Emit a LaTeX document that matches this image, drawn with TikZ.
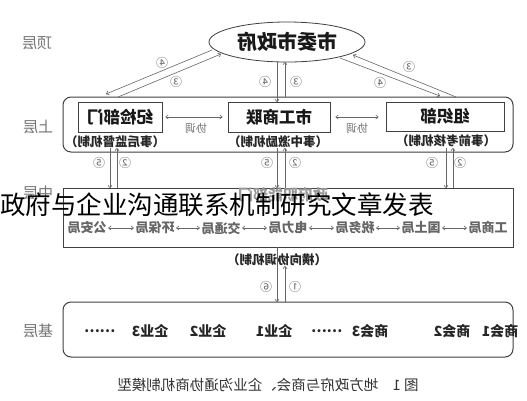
\documentclass[tikz,border=0pt]{standalone}
\usepackage{fontspec}
\usepackage{graphicx}
\setmainfont{Noto Sans CJK SC}
\usetikzlibrary{shapes.geometric,arrows.meta}
\newcommand{\mirtxt}[1]{\reflectbox{#1}}
\begin{document}
\begin{tikzpicture}[x=1pt,y=-1pt,
  lbl/.style={text=black!55, font=\fontsize{15}{15}\selectfont},
  boxt/.style={draw=black!75, line width=0.8pt, font=\fontsize{16.5}{16.5}\selectfont\bfseries, text=black!90, inner sep=0pt},
  cont/.style={draw=black!75, line width=1pt, inner sep=0pt, minimum width=450, fill=none},
  subt/.style={font=\fontsize{12.5}{12.5}\selectfont\bfseries, text=black!85, inner sep=1pt},
  bur/.style={font=\fontsize{13}{13}\selectfont\bfseries, text=black!60, inner sep=1.5pt},
  basei/.style={font=\fontsize{14}{14}\selectfont\bfseries, text=black!85},
  num/.style={font=\fontsize{12}{12}\selectfont, text=black!60, inner sep=0pt},
  xt/.style={font=\fontsize{11}{11}\selectfont, text=black!55, inner sep=0pt},
  arr/.style={draw=black!60, line width=0.6pt, -{To[length=3pt,width=4.5pt]}},
  darr/.style={draw=black!60, line width=0.6pt, {To[length=3pt,width=4.5pt]}-{To[length=3pt,width=4.5pt]}}
]
\useasboundingbox (0,0) rectangle (527,400);
\fill[white] (0,0) rectangle (527,400);

% layer labels
\node[lbl] (lTop) at (37,43) {\mirtxt{顶层}};
\node[lbl] (lUp) at (38,127) {\mirtxt{上层}};
\node[lbl] (lMid) at (38,193) {\mirtxt{中层}};
\node[lbl] (lBase) at (38,331) {\mirtxt{基层}};

% top
\node[ellipse, draw=black!75, line width=0.8pt, minimum width=156, minimum height=40,
      font=\fontsize{20}{20}\selectfont\bfseries, text=black!90] (gov) at (287,42) {\mirtxt{市委市政府}};

% containers
\node[cont, rounded corners=8pt, minimum height=55] (upper) at (288,124.5) {};
\node[cont, minimum height=59] (mid) at (288,217.5) {};
\node[cont, rounded corners=8pt, minimum height=55] (base) at (288,329.5) {};

% upper boxes
\node[boxt, minimum width=84, minimum height=30] (jj) at (120,117) {\mirtxt{纪检部门}};
\node[boxt, minimum width=102, minimum height=30] (gsl) at (279,117) {\mirtxt{市工商联}};
\node[boxt, minimum width=118, minimum height=29] (zzb) at (445,116.5) {\mirtxt{组织部}};
\node[subt] (s1) at (115,142) {\mirtxt{（事后监督机制）}};
\node[subt] (s2) at (278,142) {\mirtxt{（事中激励机制）}};
\node[subt] (s3) at (446,141) {\mirtxt{（事前考核机制）}};
\draw[darr, shorten <=3pt, shorten >=5pt] (jj.east) -- (gsl.west);
\draw[darr, shorten <=5pt, shorten >=7pt] (gsl.east) -- (zzb.west |- gsl.east);
\node[xt] (x1) at (196,128) {\mirtxt{协调}};
\node[xt] (x2) at (357,128) {\mirtxt{协调}};

% middle
\node[font=\fontsize{15}{15}\selectfont\bfseries, text=black!40] (midt) at (283,195) {\mirtxt{政府职能部门}};
\node[bur] (b1) at (87,228) {\mirtxt{公安局}};
\node[bur] (b2) at (155,228) {\mirtxt{环保局}};
\node[bur] (b3) at (221,228) {\mirtxt{交通局}};
\node[bur] (b4) at (288,228) {\mirtxt{电力局}};
\node[bur] (b5) at (355,228) {\mirtxt{税务局}};
\node[bur] (b6) at (421,228) {\mirtxt{国土局}};
\node[bur] (b7) at (488,228) {\mirtxt{工商局}};
\foreach \a/\b in {b1/b2,b2/b3,b3/b4,b4/b5,b5/b6,b6/b7}
  \draw[darr] (\a.east) -- (\b.west);
\node[subt] (hx) at (277,260) {\mirtxt{（横向协调机制）}};

% base items
\node[basei] (e1) at (500,331) {\mirtxt{商会1}};
\node[basei] (e2) at (452,331) {\mirtxt{商会2}};
\node[basei] (e3) at (370,331) {\mirtxt{商会3}};
\node[basei] (e4) at (327,331) {\mirtxt{……}};
\node[basei] (e5) at (274,331) {\mirtxt{企业1}};
\node[basei] (e6) at (208,331) {\mirtxt{企业2}};
\node[basei] (e7) at (150,331) {\mirtxt{企业3}};
\node[basei] (e8) at (100,331) {\mirtxt{……}};

% caption
\node[text=black!80, font=\fontsize{14.5}{14.5}\selectfont] (cap) at (268,385) {\mirtxt{图 1\quad 地方政府与商会、企业沟通协商机制模型}};

% connector end points
\coordinate (a1s) at (212,50);  \coordinate (a1e) at (106,94);
\coordinate (a2s) at (118,97);  \coordinate (a2e) at (221,54);
\coordinate (a3s) at (277,62);  \coordinate (a3e) at (277,102);
\coordinate (a4s) at (285,97);  \coordinate (a4e) at (285,62);
\coordinate (a5s) at (340,58);  \coordinate (a5e) at (440,96);
\coordinate (a6s) at (456,97);  \coordinate (a6e) at (353,55);
\coordinate (c1s) at (110,148); \coordinate (c1e) at (110,188);
\coordinate (c2s) at (117,188); \coordinate (c2e) at (117,148);
\coordinate (c3s) at (277,148); \coordinate (c3e) at (277,188);
\coordinate (c4s) at (285,188); \coordinate (c4e) at (285,148);
\coordinate (c5s) at (446,148); \coordinate (c5e) at (446,188);
\coordinate (c6s) at (453,188); \coordinate (c6e) at (453,148);
\coordinate (d1s) at (277,247); \coordinate (d1e) at (277,302);
\coordinate (d2s) at (285,302); \coordinate (d2e) at (285,266);

\foreach \p in {a1,a2,a3,a4,a5,a6,c1,c2,c3,c4,c5,c6,d1,d2}
  \draw[arr] (\p s) -- (\p e);

% circled numbers
\node[num] (n1) at (162,63) {\mirtxt{④}};
\node[num] (n2) at (176,82) {\mirtxt{③}};
\node[num] (n3) at (265,82) {\mirtxt{④}};
\node[num] (n4) at (296,82) {\mirtxt{③}};
\node[num] (n5) at (380,83) {\mirtxt{④}};
\node[num] (n6) at (409,67) {\mirtxt{③}};
\node[num] (n7) at (99,163) {\mirtxt{⑤}};
\node[num] (n8) at (125,163) {\mirtxt{②}};
\node[num] (n9) at (267,163) {\mirtxt{⑤}};
\node[num] (n10) at (295,163) {\mirtxt{②}};
\node[num] (n11) at (432,163) {\mirtxt{⑤}};
\node[num] (n12) at (460,163) {\mirtxt{②}};
\node[num] (n13) at (266,287) {\mirtxt{⑥}};
\node[num] (n14) at (295,287) {\mirtxt{①}};

% overlaid title
\node[anchor=west, font=\fontsize{25.5}{25.5}\selectfont, text=black, inner sep=0pt] (wm) at (0,205) {政府与企业沟通联系机制研究文章发表};
\end{tikzpicture}
\end{document}
